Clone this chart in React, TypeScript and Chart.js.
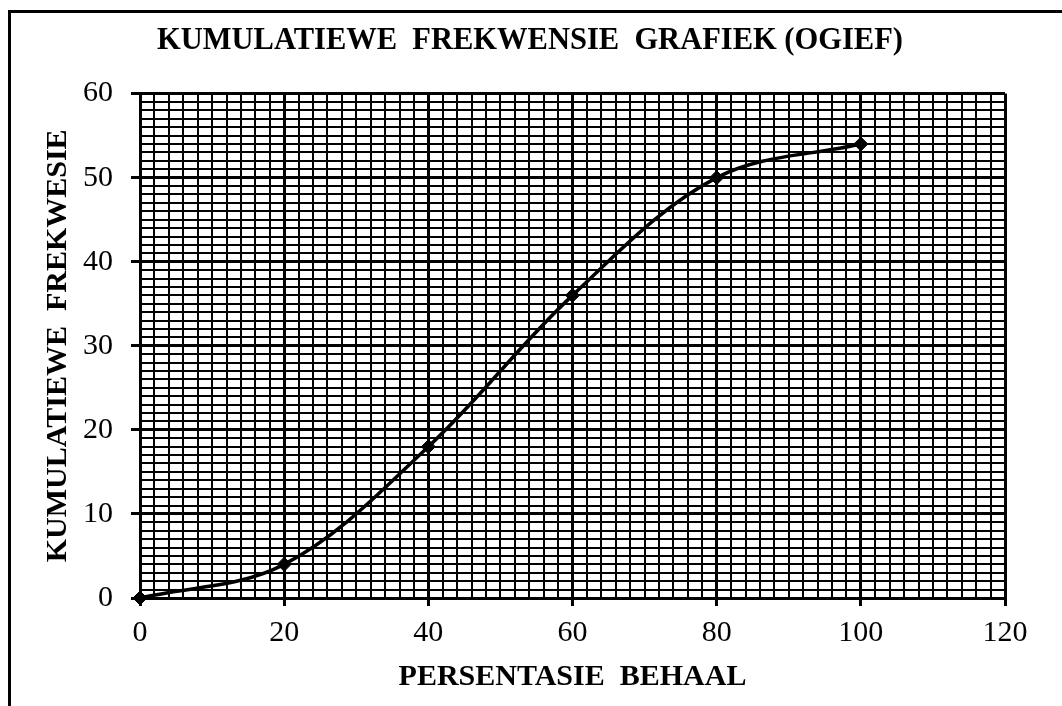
import { useEffect, useRef } from 'react';
import { Chart, registerables } from 'chart.js';

Chart.register(...registerables);

// ---- data ----
const percentages = [0, 20, 40, 60, 80, 100];
const cumulativeFrequencies = [0, 4, 18, 36, 50, 54];

// ---- text ----
const chartTitle = 'KUMULATIEWE  FREKWENSIE  GRAFIEK (OGIEF)';
const xAxisTitle = 'PERSENTASIE  BEHAAL';
const yAxisTitle = 'KUMULATIEWE  FREKWESIE';

// ---- axis ranges / steps ----
const xRange = [0, 120];
const xMajorStep = 20;
const xMinorStep = 2;
const yRange = [0, 60];
const yMajorStep = 10;
const yMinorStep = 1;

const FONT = '"Liberation Serif", "Times New Roman", serif';

export default function App() {
  const ref = useRef<HTMLCanvasElement | null>(null);

  useEffect(() => {
    if (!ref.current) return;
    const isMajor = (v: number, step: number) => Math.abs(v / step - Math.round(v / step)) < 1e-6;

    const chart = new Chart(ref.current, {
      type: 'line',
      data: {
        datasets: [
          {
            data: percentages.map((x, i) => ({ x, y: cumulativeFrequencies[i] })),
            borderColor: '#000',
            borderWidth: 3.5,
            tension: 0.35,
            pointStyle: 'rectRot',
            pointRadius: 7,
            pointBackgroundColor: '#000',
            pointBorderColor: '#000',
            pointBorderWidth: 1,
            clip: false as any,
            fill: false,
          },
        ],
      },
      options: {
        responsive: false,
        animation: false,
        devicePixelRatio: 1,
        layout: { padding: { left: 55, right: 57, top: 0, bottom: 0 } },
        plugins: {
          legend: { display: false },
          tooltip: { enabled: false },
          title: {
            display: true,
            text: chartTitle,
            color: '#000',
            font: { family: FONT, size: 30.5, weight: 'bold' },
            padding: { top: 23, bottom: 34 },
          },
        },
        scales: {
          x: {
            type: 'linear',
            min: xRange[0],
            max: xRange[1],
            afterFit: (s: any) => {
              s.height = 108;
            },
            ticks: {
              stepSize: xMinorStep,
              autoSkip: false,
              maxRotation: 0,
              minRotation: 0,
              padding: 9,
              color: '#000',
              font: { family: FONT, size: 30 },
              callback: (v: any) => (isMajor(Number(v), xMajorStep) ? String(v) : ''),
            },
            grid: {
              color: '#000',
              lineWidth: (c: any) => (isMajor(c.tick.value, xMajorStep) ? 3 : 2),
              tickLength: 8,
              tickWidth: 3,
              tickColor: (c: any) => (isMajor(c.tick.value, xMajorStep) ? '#000' : 'rgba(0,0,0,0)'),
            },
            border: { display: true, color: '#000', width: 3 },
            title: {
              display: true,
              text: xAxisTitle,
              color: '#000',
              font: { family: FONT, size: 30, weight: 'bold' },
              padding: { top: 0, bottom: 11 },
            },
          },
          y: {
            type: 'linear',
            min: yRange[0],
            max: yRange[1],
            afterFit: (s: any) => {
              s.width = 85;
            },
            ticks: {
              stepSize: yMinorStep,
              autoSkip: false,
              padding: 18,
              color: '#000',
              font: { family: FONT, size: 30 },
              callback: (v: any) => (isMajor(Number(v), yMajorStep) ? String(v) : ''),
            },
            grid: {
              color: '#000',
              lineWidth: (c: any) => (isMajor(c.tick.value, yMajorStep) ? 3 : 2),
              tickLength: 9,
              tickWidth: 3,
              tickColor: (c: any) => (isMajor(c.tick.value, yMajorStep) ? '#000' : 'rgba(0,0,0,0)'),
            },
            border: { display: true, color: '#000', width: 3 },
            title: {
              display: true,
              text: yAxisTitle,
              color: '#000',
              font: { family: FONT, size: 30, weight: 'bold' },
              padding: { top: -15, bottom: 0 },
            },
          },
        },
      },
    } as any);

    return () => chart.destroy();
  }, []);

  return (
    <div
      style={{
        position: 'absolute',
        left: 0,
        top: 0,
        width: 1062,
        height: 706,
        background: '#fff',
        overflow: 'hidden',
      }}
    >
      <canvas ref={ref} width={1062} height={706} style={{ display: 'block', width: 1062, height: 706 }} />
      <div style={{ position: 'absolute', left: 8, top: 10, width: 1054, height: 3, background: '#000' }} />
      <div style={{ position: 'absolute', left: 8, top: 10, width: 3, height: 696, background: '#000' }} />
    </div>
  );
}
